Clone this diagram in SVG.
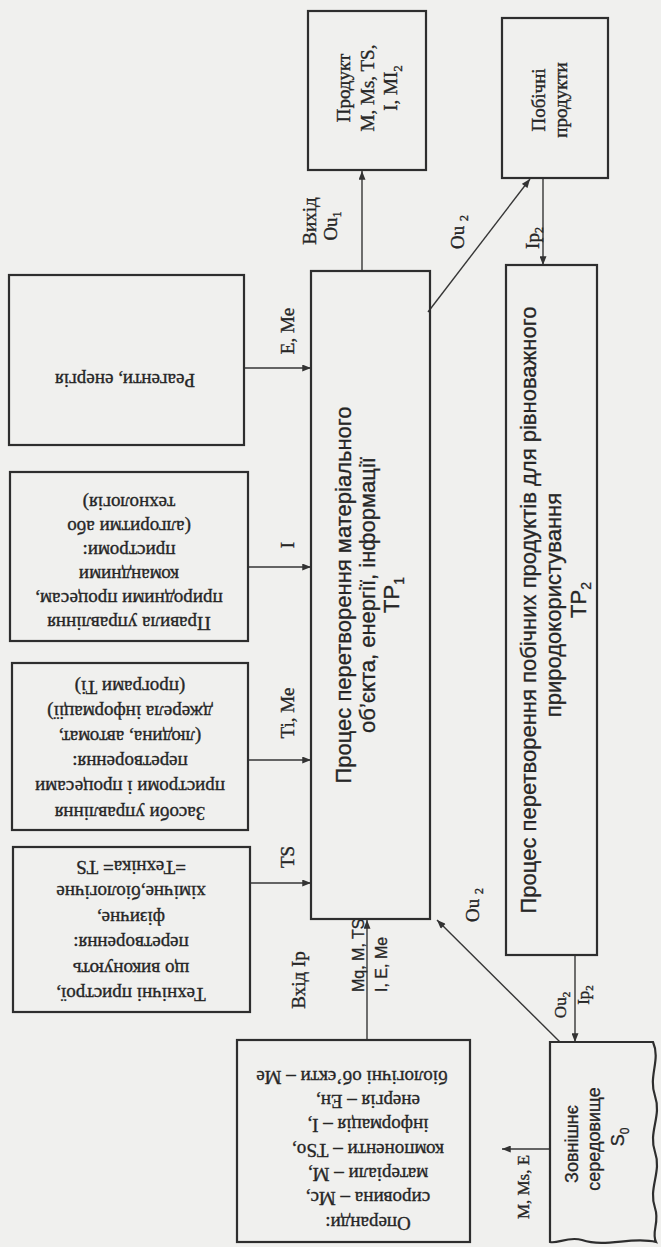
<svg xmlns="http://www.w3.org/2000/svg" width="661" height="1247" viewBox="0 0 661 1247">
<defs>
<marker id="arr" viewBox="0 0 10 8" refX="10" refY="4" markerWidth="10" markerHeight="7" markerUnits="userSpaceOnUse" orient="auto"><path d="M0,0 L10,4 L0,8 z" fill="#333"/></marker>
<style>
.box{fill:none;stroke:#2e2e2e;stroke-width:2.2}
.conn{fill:none;stroke:#363636;stroke-width:1.4;marker-end:url(#arr)}
.serif{font-family:"Liberation Serif","Times New Roman",serif;fill:#262626;stroke:#262626;stroke-width:0.35}
.sans{font-family:"Liberation Sans",Arial,sans-serif;fill:#262626;stroke:#262626;stroke-width:0.3}
.c{text-anchor:middle;dominant-baseline:central}
.s{text-anchor:start;dominant-baseline:central}
.lb{font-size:19px}
.bx{font-size:19px}
.main{font-size:22px}
</style>
</defs>
<rect x="0" y="0" width="661" height="1247" fill="#f0f0ee"/>

<g id="connectors">
<line class="conn" x1="244" y1="368" x2="311" y2="368"/>
<line class="conn" x1="248" y1="567" x2="311" y2="567"/>
<line class="conn" x1="248" y1="760" x2="311" y2="760"/>
<line class="conn" x1="250" y1="883" x2="311" y2="883"/>
<line class="conn" x1="362" y1="271" x2="362" y2="171"/>
<line class="conn" x1="428" y1="312" x2="530" y2="179"/>
<line class="conn" x1="543" y1="178" x2="543" y2="265"/>
<line class="conn" x1="367" y1="1040" x2="367" y2="920"/>
<line class="conn" x1="560" y1="1042" x2="437" y2="920"/>
<line class="conn" x1="575" y1="955" x2="575" y2="1042"/>
<line class="conn" x1="550" y1="1149" x2="502" y2="1149"/>
</g>

<g id="labels">
<text class="serif lb c" transform="translate(287,331) rotate(-90)">E, Me</text>
<text class="serif lb c" transform="translate(287,545) rotate(-90)">I</text>
<text class="serif lb c" transform="translate(287,713) rotate(-90)">Ti, Me</text>
<text class="serif lb c" transform="translate(287,857) rotate(-90)">TS</text>
<text class="serif lb c" transform="translate(309,221) rotate(-90)">Вихід</text>
<text class="serif lb c" transform="translate(330,226) rotate(-90)">Ou<tspan font-size="12" baseline-shift="sub">1</tspan></text>
<text class="serif lb c" transform="translate(457,232) rotate(-90)">Ou <tspan font-size="12" baseline-shift="sub">2</tspan></text>
<text class="serif lb c" transform="translate(532,238) rotate(-90)">Ip<tspan font-size="12" baseline-shift="sub">2</tspan></text>
<text class="serif lb c" transform="translate(298,980) rotate(-90)">Вхід Ip</text>
<text class="sans s" font-size="16" transform="translate(358,992) rotate(-90)">Mq, M, TS</text>
<text class="sans s" font-size="16" transform="translate(381,992) rotate(-90)">I, E, Me</text>
<text class="serif lb c" transform="translate(472,905) rotate(-90)">Ou <tspan font-size="12" baseline-shift="sub">2</tspan></text>
<text class="serif c" font-size="17" transform="translate(560,1005) rotate(-90)">Ou<tspan font-size="11" baseline-shift="sub">2</tspan></text>
<text class="serif c" font-size="17" transform="translate(583,995) rotate(-90)">Ip<tspan font-size="11" baseline-shift="sub">2</tspan></text>
<text class="serif c" font-size="17" transform="translate(523,1187) rotate(-90)">M, Ms,  E</text>
</g>

<g id="reagenty">
<rect class="box" x="9" y="275" width="235" height="170"/>
<text class="serif bx c" transform="translate(125,380) rotate(180)">Реагенти, енергія</text>
</g>

<g id="pravyla">
<rect class="box" x="10" y="472" width="238" height="169"/>
<g class="serif bx c" transform="translate(129,563) rotate(180)">
<text class="c" x="0" y="-60">Правила управління</text>
<text class="c" x="0" y="-36">природними процесам,</text>
<text class="c" x="0" y="-12">командними</text>
<text class="c" x="0" y="12">пристроми:</text>
<text class="c" x="0" y="36">(алгоритми або</text>
<text class="c" x="0" y="60">технологія)</text>
</g>
</g>

<g id="zasoby">
<rect class="box" x="12" y="663" width="236" height="167"/>
<g class="serif bx c" transform="translate(130,750) rotate(180)">
<text class="c" x="0" y="-63">Засоби управління</text>
<text class="c" x="0" y="-37.8">пристроми і процесами</text>
<text class="c" x="0" y="-12.6">перетворення:</text>
<text class="c" x="0" y="12.6">(людина, автомат,</text>
<text class="c" x="0" y="37.8">джерела інформації)</text>
<text class="c" x="0" y="63">(програми Ti)</text>
</g>
</g>

<g id="tekhnichni">
<rect class="box" x="13" y="847" width="237" height="165"/>
<g class="serif bx c" transform="translate(131,931) rotate(180)">
<text class="c" x="0" y="-63.5">Технічні пристрої,</text>
<text class="c" x="0" y="-38.1">що виконують</text>
<text class="c" x="0" y="-12.7">перетворення:</text>
<text class="c" x="0" y="12.7">фізичне,</text>
<text class="c" x="0" y="38.1">хімічне,біологічне</text>
<text class="c" x="0" y="63.5">=Техніка= TS</text>
</g>
</g>

<g id="operandy">
<rect class="box" x="237" y="1040" width="233" height="202"/>
<g class="serif bx c" transform="translate(368,1150) rotate(180)">
<text class="c" x="0" y="-73">Операнди:</text>
<text class="c" x="0" y="-48.7">сировина – Mc,</text>
<text class="c" x="0" y="-24.3">матеріали – M,</text>
<text class="c" x="0" y="0">компоненти – TSo,</text>
<text class="c" x="0" y="24.3">інформація – I,</text>
<text class="c" x="0" y="48.7">енергія – Eн,</text>
<text class="c" x="16" y="73">біологічні об’єкти – Me</text>
</g>
</g>

<g id="tp1">
<rect class="box" x="311" y="271" width="119" height="648"/>
<text class="sans main c" transform="translate(343,595) rotate(-90)">Процес перетворення матеріального</text>
<text class="sans main c" transform="translate(367,595) rotate(-90)">об’єкта, енергії, інформації</text>
<text class="sans main c" transform="translate(391,595) rotate(-90)">TP<tspan font-size="14" baseline-shift="sub">1</tspan></text>
</g>

<g id="produkt">
<rect class="box" x="308" y="11" width="118" height="159"/>
<text class="serif bx c" transform="translate(343,88) rotate(-90)">Продукт</text>
<text class="serif bx c" transform="translate(367,88) rotate(-90)">M, Ms, TS,</text>
<text class="serif bx c" transform="translate(390,88) rotate(-90)">I, MI<tspan font-size="13" baseline-shift="sub">2</tspan></text>
</g>

<g id="pobichni">
<rect class="box" x="502" y="18" width="106" height="160"/>
<text class="serif bx c" transform="translate(538,100) rotate(-90)">Побічні</text>
<text class="serif bx c" transform="translate(560,100) rotate(-90)">продукти</text>
</g>

<g id="tp2">
<rect class="box" x="506" y="265" width="91" height="690"/>
<text class="sans main c" transform="translate(528,610) rotate(-90)">Процес перетворення побічних продуктів для рівноважного</text>
<text class="sans main c" transform="translate(553,605) rotate(-90)">природокористування</text>
<text class="sans main c" transform="translate(578,600) rotate(-90)">TP<tspan font-size="14" baseline-shift="sub">2</tspan></text>
</g>

<g id="zovnishnie">
<path class="box" d="M550,1042 L653,1042 C661,1060 648,1076 655,1096 C662,1116 648,1132 655,1152 C662,1172 648,1188 655,1208 C660,1222 651,1232 656,1242 C632,1236 606,1248 582,1240 C568,1236 558,1244 550,1242 Z"/>
<text class="sans c" font-size="18" transform="translate(572,1144) rotate(-90)">Зовнішнє</text>
<text class="sans c" font-size="18" transform="translate(594,1139) rotate(-90)">середовище</text>
<text class="sans c" font-size="18" transform="translate(618,1137) rotate(-90)">S<tspan font-size="12" baseline-shift="sub">0</tspan></text>
</g>
</svg>
